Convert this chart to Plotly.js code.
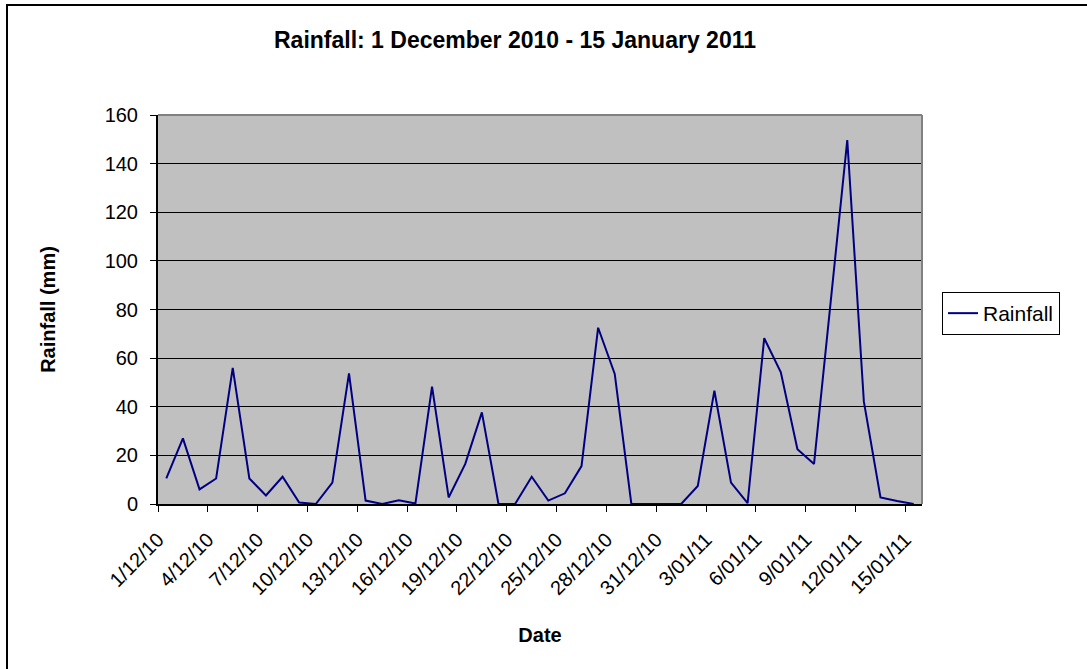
<!DOCTYPE html>
<html>
<head>
<meta charset="utf-8">
<script src="https://cdn.plot.ly/plotly-3.0.1.min.js"></script>
<style>
  html, body { margin: 0; padding: 0; background: #ffffff; }
  #chart { width: 1087px; height: 669px; }
</style>
</head>
<body>
<div id="chart"></div>
<script>
// Dates (categories): 1 December 2010 - 15 January 2011
const dates = [
  "1/12/10","2/12/10","3/12/10","4/12/10","5/12/10","6/12/10","7/12/10","8/12/10",
  "9/12/10","10/12/10","11/12/10","12/12/10","13/12/10","14/12/10","15/12/10","16/12/10",
  "17/12/10","18/12/10","19/12/10","20/12/10","21/12/10","22/12/10","23/12/10","24/12/10",
  "25/12/10","26/12/10","27/12/10","28/12/10","29/12/10","30/12/10","31/12/10",
  "1/01/11","2/01/11","3/01/11","4/01/11","5/01/11","6/01/11","7/01/11","8/01/11",
  "9/01/11","10/01/11","11/01/11","12/01/11","13/01/11","14/01/11","15/01/11"
];

// Rainfall (mm)
const rainfall = [
  10.5, 27, 6, 10.5, 56, 10.5, 3.5, 11.2,
  0.6, 0, 8.8, 53.7, 1.4, 0, 1.5, 0.2,
  48.3, 2.7, 16.5, 37.7, 0, 0, 11.2, 1.4,
  4.4, 15.6, 72.5, 53.5, 0, 0, 0,
  0, 7.4, 46.6, 8.8, 0.4, 68.2, 54.2, 22.5,
  16.5, 83, 149.7, 42.1, 2.7, 1.2, 0
];

// Tick labels shown on the x axis (every third date)
const tickLabelInterval = 3;
const xTickLabels = dates.filter((d, i) => i % tickLabelInterval === 0);

const W = 1087, H = 669;
const M = { l: 158, r: 165, t: 115, b: 165 };
const PW = W - M.l - M.r, PH = H - M.t - M.b;
const px = x => (x - M.l) / PW;
const py = y => (H - M.b - y) / PH;

const font = "Liberation Sans, Arial, sans-serif";

const trace = {
  type: "scatter",
  mode: "lines",
  name: "Rainfall",
  x: dates,
  y: rainfall,
  line: { color: "#000080", width: 2 },
  hoverinfo: "x+y"
};

// Ticks placed on category boundaries, labels every third category
const tickvals = xTickLabels.map((_, k) => k * tickLabelInterval - 0.5);

const layout = {
  width: W, height: H,
  margin: M,
  paper_bgcolor: "#ffffff",
  plot_bgcolor: "#C0C0C0",
  font: { family: font, size: 20, color: "#000000" },
  title: {
    text: "<b>Rainfall: 1 December 2010 - 15 January 2011</b>",
    font: { family: font, size: 23, color: "#000000" },
    x: 515 / W, xanchor: "center",
    y: 1 - 40 / H, yanchor: "middle"
  },
  xaxis: {
    type: "category",
    range: [-0.5, dates.length - 0.5],
    tickmode: "array",
    tickvals: tickvals,
    ticktext: xTickLabels,
    tickangle: -45,
    ticks: "outside", ticklen: 6, tickwidth: 1, tickcolor: "#000000",
    showline: true, linecolor: "#000000", linewidth: 2,
    showgrid: false, zeroline: false,
    tickfont: { family: font, size: 20, color: "#000000" },
    ticklabelstandoff: 8,
    title: { text: "<b>Date</b>", font: { family: font, size: 20, color: "#000000" }, standoff: 30 },
    automargin: false
  },
  yaxis: {
    range: [0, 160],
    dtick: 20,
    ticks: "outside", ticklen: 6, tickwidth: 1, tickcolor: "#000000",
    showline: true, linecolor: "#000000", linewidth: 2,
    showgrid: true, gridcolor: "#000000", gridwidth: 1,
    zeroline: false,
    tickfont: { family: font, size: 20, color: "#000000" },
    ticklabelstandoff: 8,
    title: { text: "<b>Rainfall (mm)</b>", font: { family: font, size: 20, color: "#000000" }, standoff: 44 },
    automargin: false
  },
  showlegend: true,
  legend: {
    x: px(942), y: py(292), xanchor: "left", yanchor: "top",
    bordercolor: "#000000", borderwidth: 1, bgcolor: "#ffffff",
    font: { family: font, size: 21, color: "#000000" },
    itemwidth: 30
  },
  shapes: [
    // plot-area top and right edges (grey)
    { type: "line", xref: "paper", yref: "paper", x0: 0, x1: 1, y0: 1, y1: 1, line: { color: "#808080", width: 2 } },
    { type: "line", xref: "paper", yref: "paper", x0: 1, x1: 1, y0: 0, y1: 1, line: { color: "#808080", width: 2 } },
    // chart outer border
    { type: "rect", xref: "paper", yref: "paper", x0: px(7), x1: px(1120), y0: py(700), y1: py(5),
      line: { color: "#000000", width: 2 }, fillcolor: "rgba(0,0,0,0)" }
  ]
};

Plotly.newPlot("chart", [trace], layout, { displayModeBar: false, staticPlot: true });
</script>
</body>
</html>
